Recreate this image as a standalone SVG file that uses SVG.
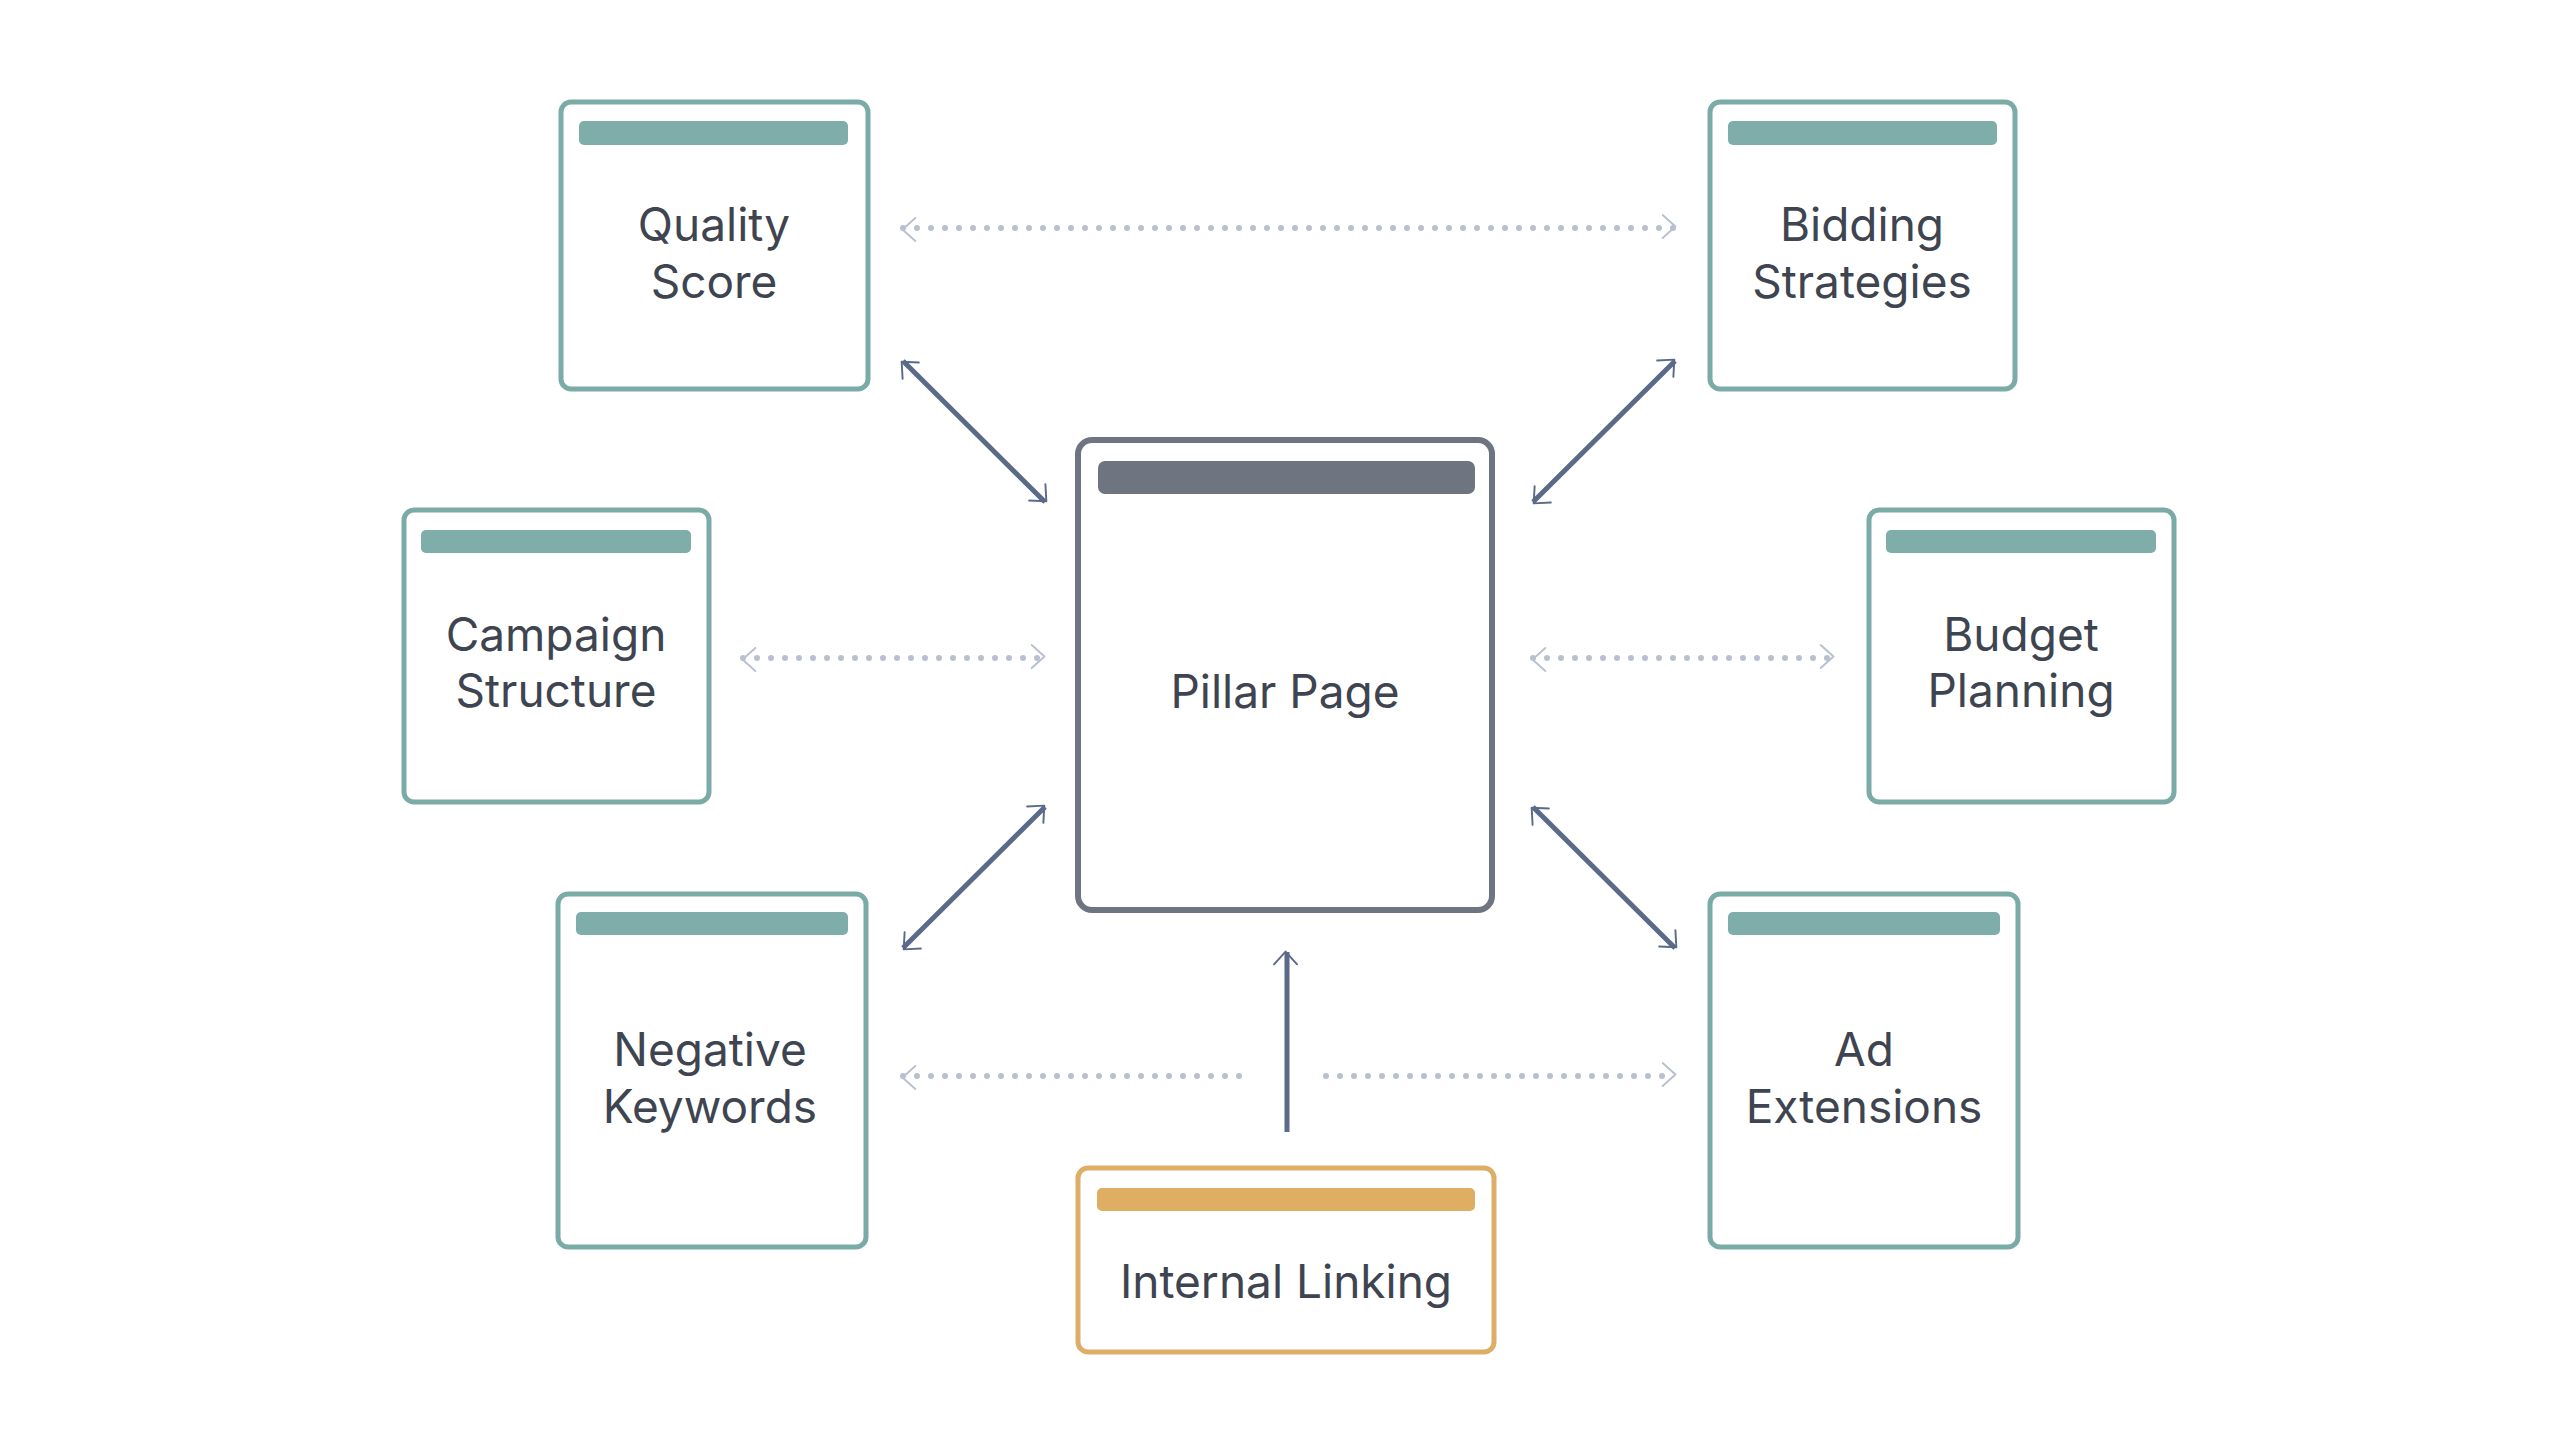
<svg xmlns="http://www.w3.org/2000/svg" width="2560" height="1429" viewBox="0 0 2560 1429">
<style>
.t{fill:#ffffff;stroke:#7aaba7;stroke-width:5}
.th{fill:#7fada9}
.lbl{font-family:Inter,"Noto Sans",sans-serif;font-size:46px;fill:#3e4450;text-anchor:middle}
.solid{stroke:#5a6a88;stroke-width:5;fill:none}
.dot{stroke:#b8c0d0;stroke-width:6;fill:none;stroke-linecap:round;stroke-dasharray:0 14}
</style>
<defs>
<marker id="ad" viewBox="0 0 20 20" refX="18" refY="10" markerWidth="8" markerHeight="8" markerUnits="userSpaceOnUse" orient="auto-start-reverse" overflow="visible">
<path d="M-2,-8 L18,10 L-2,28" transform="scale(1.6) translate(-6,-6)" fill="none" stroke="#5a6a88" stroke-width="3" stroke-linecap="round" stroke-linejoin="round"/>
</marker>
<marker id="al" viewBox="0 0 20 20" refX="18" refY="10" markerWidth="8" markerHeight="8" markerUnits="userSpaceOnUse" orient="auto-start-reverse" overflow="visible">
<path d="M-2,-8 L18,10 L-2,28" transform="scale(1.6) translate(-6,-6)" fill="none" stroke="#b8c0d0" stroke-width="3" stroke-linecap="round" stroke-linejoin="round"/>
</marker>
</defs>
<rect width="2560" height="1429" fill="#ffffff"/>
<g id="connectors">
<line class="solid" x1="903" y1="361" x2="1045" y2="502" marker-start="url(#ad)" marker-end="url(#ad)"/>
<line class="solid" x1="1675" y1="361" x2="1533" y2="502" marker-start="url(#ad)" marker-end="url(#ad)"/>
<line class="solid" x1="903" y1="948" x2="1045" y2="807" marker-start="url(#ad)" marker-end="url(#ad)"/>
<line class="solid" x1="1675" y1="948" x2="1533" y2="807" marker-start="url(#ad)" marker-end="url(#ad)"/>
<line class="solid" x1="1287" y1="1132" x2="1287" y2="952" marker-end="url(#ad)"/>
<line class="dot" x1="903" y1="228" x2="1675" y2="228" marker-start="url(#al)" marker-end="url(#al)"/>
<line class="dot" x1="743" y1="658" x2="1044" y2="658" marker-start="url(#al)" marker-end="url(#al)"/>
<line class="dot" x1="1533" y1="658" x2="1833" y2="658" marker-start="url(#al)" marker-end="url(#al)"/>
<line class="dot" x1="903" y1="1076" x2="1250" y2="1076" marker-start="url(#al)"/>
<line class="dot" x1="1326" y1="1076" x2="1675" y2="1076" marker-end="url(#al)"/>
</g>
<g id="pillar">
<rect x="1078" y="440" width="414" height="470" rx="14" fill="#fff" stroke="#6f7580" stroke-width="6"/>
<rect x="1098" y="461" width="377" height="33" rx="7" fill="#6e7480"/>
<text x="1285" y="708" class="lbl" font-size="56">Pillar Page</text>
</g>
<g id="quality-score">
<rect class="t" x="561" y="102" width="307" height="287" rx="10"/>
<rect class="th" x="579" y="121" width="269" height="24" rx="5"/>
<text class="lbl" x="714" y="241">Quality</text><text class="lbl" x="714" y="298">Score</text>
</g>
<g id="bidding">
<rect class="t" x="1710" y="102" width="305" height="287" rx="10"/>
<rect class="th" x="1728" y="121" width="269" height="24" rx="5"/>
<text class="lbl" x="1862" y="241">Bidding</text><text class="lbl" x="1862" y="298">Strategies</text>
</g>
<g id="campaign">
<rect class="t" x="404" y="510" width="305" height="292" rx="10"/>
<rect class="th" x="421" y="530" width="270" height="23" rx="5"/>
<text class="lbl" x="556" y="651">Campaign</text><text class="lbl" x="556" y="707">Structure</text>
</g>
<g id="budget">
<rect class="t" x="1869" y="510" width="305" height="292" rx="10"/>
<rect class="th" x="1886" y="530" width="270" height="23" rx="5"/>
<text class="lbl" x="2021" y="651">Budget</text><text class="lbl" x="2021" y="707">Planning</text>
</g>
<g id="negative">
<rect class="t" x="558" y="894" width="308" height="353" rx="10"/>
<rect class="th" x="576" y="912" width="272" height="23" rx="5"/>
<text class="lbl" x="710" y="1066">Negative</text><text class="lbl" x="710" y="1123">Keywords</text>
</g>
<g id="ad-extensions">
<rect class="t" x="1710" y="894" width="308" height="353" rx="10"/>
<rect class="th" x="1728" y="912" width="272" height="23" rx="5"/>
<text class="lbl" x="1864" y="1066">Ad</text><text class="lbl" x="1864" y="1123">Extensions</text>
</g>
<g id="internal-linking">
<rect x="1078" y="1168" width="416" height="184" rx="10" fill="#fff" stroke="#dcae68" stroke-width="5"/>
<rect x="1097" y="1188" width="378" height="23" rx="5" fill="#e0ae62"/>
<text class="lbl" x="1286" y="1298">Internal Linking</text>
</g>
</svg>
